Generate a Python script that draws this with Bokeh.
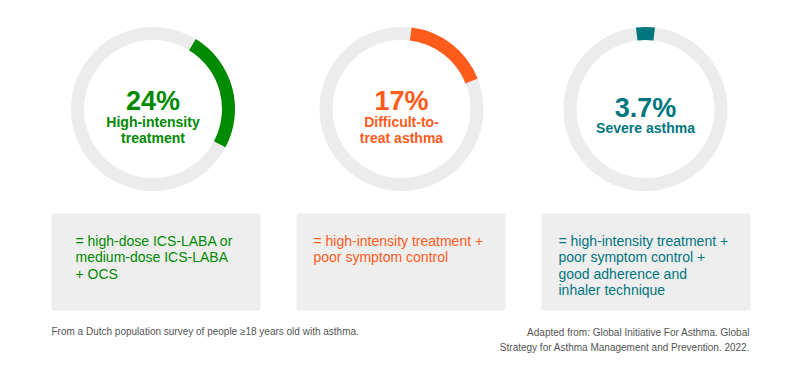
import math
from bokeh.plotting import figure
from bokeh.models import Range1d, ColumnDataSource, BoxAnnotation
from bokeh.core.properties import value
from bokeh.embed import file_html
from bokeh.resources import INLINE

# ---- data ----
percent_values = [24.0, 17.0, 3.7]
percent_labels = ["24%", "17%", "3.7%"]
category_lines = [["High-intensity", "treatment"],
                  ["Difficult-to-", "treat asthma"],
                  ["Severe asthma"]]
definition_lines = [["= high-dose ICS-LABA or", "medium-dose ICS-LABA", "+ OCS"],
                    ["= high-intensity treatment +", "poor symptom control"],
                    ["= high-intensity treatment +", "poor symptom control +",
                     "good adherence and", "inhaler technique"]]
footnote_left = "From a Dutch population survey of people \u226518 years old with asthma."
footnote_right = ["Adapted from: Global Initiative For Asthma. Global",
                  "Strategy for Asthma Management and Prevention. 2022."]

# ---- styles / layout ----
colors = ["#008a00", "#ff5b1b", "#00767f"]
ring_gray = "#ececec"
box_gray = "#eeeeee"
foot_color = "#555555"
FONT = "Liberation Sans"

centers_x = [152.5, 401.0, 645.0]
center_y = 108.5
r_outer = 82.0
r_inner = 69.0
arc_offset_deg = [31.5, 7.0, -6.7]   # clockwise from 12 o'clock

box_left = [51, 296, 541]
box_w = 209
box_top = 213
box_bottom = 310
text_left = [75.0, 313.0, 558.0]
line_step = 16.4

W, H = 801, 366
p = figure(width=W, height=H, output_backend="svg", toolbar_location=None,
           x_range=Range1d(0, W), y_range=Range1d(-H, 0),
           min_border=0)
p.axis.visible = False
p.grid.visible = False
p.outline_line_color = None
p.background_fill_color = "white"
p.border_fill_color = "white"

def Y(iy):
    return -iy

# background rings
p.annular_wedge(x=centers_x, y=[Y(center_y)] * 3, inner_radius=r_inner, outer_radius=r_outer,
                start_angle=0, end_angle=2 * math.pi, fill_color=ring_gray, line_color=None)

# value arcs
starts, ends = [], []
for pct, off in zip(percent_values, arc_offset_deg):
    s = math.radians(off)
    e = s + pct / 100.0 * 2 * math.pi
    starts.append(math.pi / 2 - s)
    ends.append(math.pi / 2 - e)
arc_src = ColumnDataSource(dict(x=centers_x, y=[Y(center_y)] * 3, s=starts, e=ends, c=colors))
p.annular_wedge(x="x", y="y", inner_radius=r_inner, outer_radius=r_outer,
                start_angle="s", end_angle="e", direction="clock",
                fill_color="c", line_color=None, source=arc_src)

# percentage labels and category names
pct_baselines = [100, 100, 107.3]
cat_first_baselines = [121.7, 121.7, 127.3]
px, py, pt, pc = [], [], [], []
for i in range(3):
    px.append(centers_x[i]); py.append(Y(pct_baselines[i])); pt.append(percent_labels[i]); pc.append(colors[i])
p.text(x=px, y=py, text=pt, text_color=pc, text_font=value(FONT), text_font_style="bold",
       text_font_size="27px", text_align="center", text_baseline="alphabetic")
cx, cy, ct, cc = [], [], [], []
for i in range(3):
    for j, ln in enumerate(category_lines[i]):
        cx.append(centers_x[i]); cy.append(Y(cat_first_baselines[i] + j * 16.0)); ct.append(ln); cc.append(colors[i])
p.text(x=cx, y=cy, text=ct, text_color=cc, text_font=value(FONT), text_font_style="bold",
       text_font_size="14px", text_align="center", text_baseline="alphabetic")

# definition boxes
for i in range(3):
    p.add_layout(BoxAnnotation(left=box_left[i], right=box_left[i] + box_w,
                               top=Y(box_top), bottom=Y(box_bottom),
                               fill_color=box_gray, fill_alpha=1.0, line_color=None,
                               border_radius=3, level="underlay"))
dx, dy, dt, dc = [], [], [], []
for i in range(3):
    for j, ln in enumerate(definition_lines[i]):
        dx.append(text_left[i]); dy.append(Y(240.3 + j * line_step)); dt.append(ln); dc.append(colors[i])
p.text(x=dx, y=dy, text=dt, text_color=dc, text_font=value(FONT),
       text_font_size="14px", text_align="left", text_baseline="alphabetic")

# footnotes
p.text(x=[51], y=[Y(331.3)], text=[footnote_left], text_color=foot_color, text_font=value(FONT),
       text_font_size="10px", text_align="left", text_baseline="alphabetic")
p.text(x=[749.5, 749.5], y=[Y(331.5), Y(347.2)], text=footnote_right, text_color=foot_color,
       text_font=value(FONT), text_font_size="10px", text_align="right", text_baseline="alphabetic")

open("out.html", "w").write(file_html(p, INLINE))
